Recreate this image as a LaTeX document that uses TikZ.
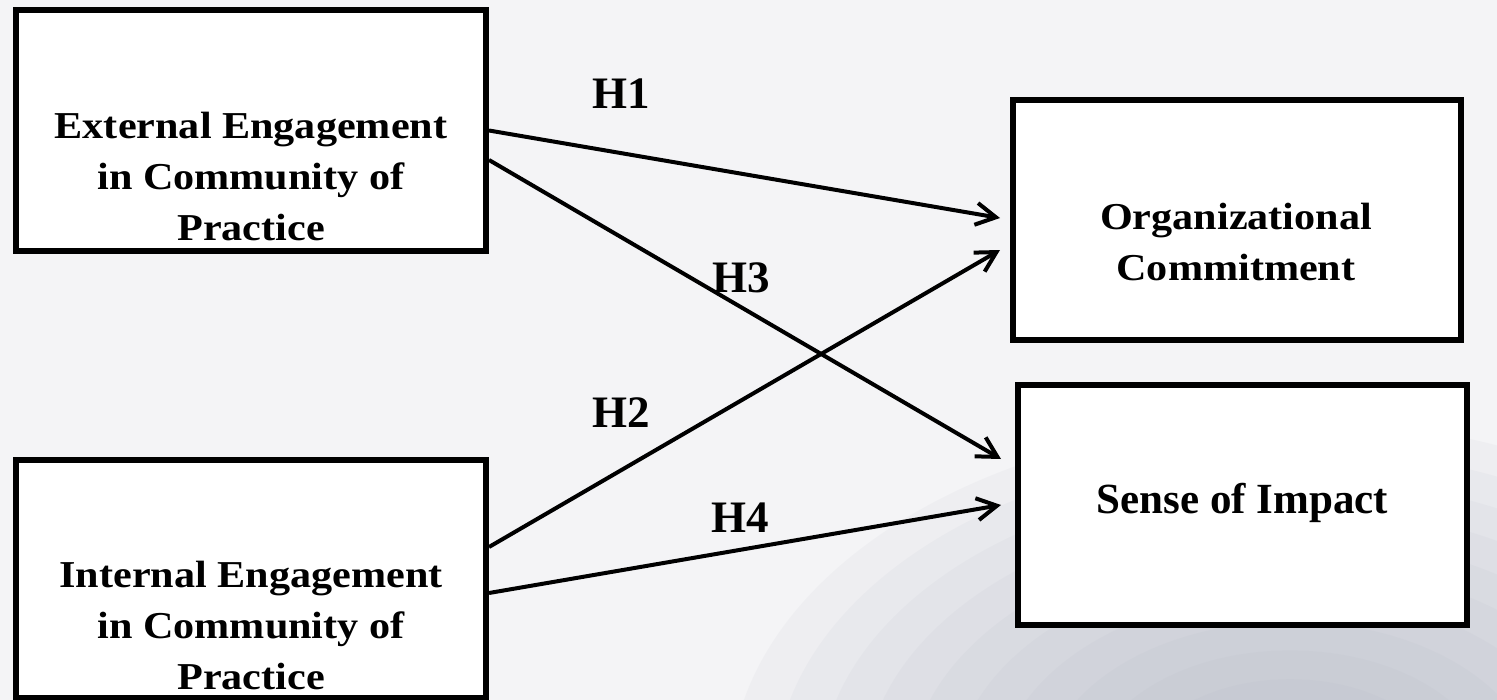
\documentclass[tikz,border=0pt]{standalone}
\usepackage{fontspec}
\setmainfont{Liberation Serif}
\newfontfamily\widefont{Liberation Serif}[FakeStretch=1.11]
\usetikzlibrary{arrows.meta,calc}
\definecolor{bgc}{RGB}{244,244,246}
\definecolor{photo}{RGB}{165,170,186}
\begin{document}
\begin{tikzpicture}[x=0.5pt,y=-0.5pt,
  box/.style={draw=black,line width=3pt,fill=white,rectangle,inner sep=0pt},
  boxtext/.style={font=\widefont\fontsize{19}{25.5}\selectfont\bfseries,align=center,inner sep=0pt},
  bigtext/.style={font=\fontsize{21.5}{25.5}\selectfont\bfseries,inner sep=0pt,anchor=base},
  hlabel/.style={font=\fontsize{22.5}{26}\selectfont\bfseries,inner sep=0pt,anchor=base},
  link/.style={line width=2pt,-{Straight Barb[length=10pt,width=11pt,line width=2pt]}}]
\fill[bgc] (0,0) rectangle (1497,700);
\useasboundingbox (0,0) rectangle (1497,700);
\begin{scope}
\clip (0,0) rectangle (1497,700);
\foreach \r in {1.0,0.92,...,0.1}{
  \fill[photo,fill opacity=0.07] (1290,780) ellipse [x radius={560*\r}, y radius={360*\r}];
}
\end{scope}
% boxes
\node[box,minimum width=235pt,minimum height=120.5pt] (ext) at (251,130.5) {};
\node[box,minimum width=235pt,minimum height=119pt] (int) at (251,579) {};
\node[box,minimum width=224pt,minimum height=120pt] (org) at (1237,220) {};
\node[box,minimum width=224.5pt,minimum height=120pt] (imp) at (1242.5,505) {};
% texts
\node[boxtext] (extT) at (251,176.2) {External Engagement\\in Community of\\Practice};
\node[boxtext] (intT) at (251,625.7) {Internal Engagement\\in Community of\\Practice};
\node[boxtext] (orgT) at (1236,242) {Organizational\\Commitment};
\node[bigtext] (impT) at (1242.5,513) {Sense of Impact};
% connectors
\draw[link] (ext.east) -- ($(org.west)+(-10,-2)$);
\draw[link] ($(ext.east)+(0,29.5)$) -- ($(imp.west)+(-14,-46)$);
\draw[link] ($(int.east)+(0,-32)$) -- ($(org.west)+(-10,30)$);
\draw[link] ($(int.east)+(0,14)$) -- ($(imp.west)+(-14,0)$);
% labels
\node[hlabel] (h1) at (621,109) {H1};
\node[hlabel] (h3) at (741,292) {H3};
\node[hlabel] (h2) at (621,427) {H2};
\node[hlabel] (h4) at (740,532) {H4};
\end{tikzpicture}
\end{document}
